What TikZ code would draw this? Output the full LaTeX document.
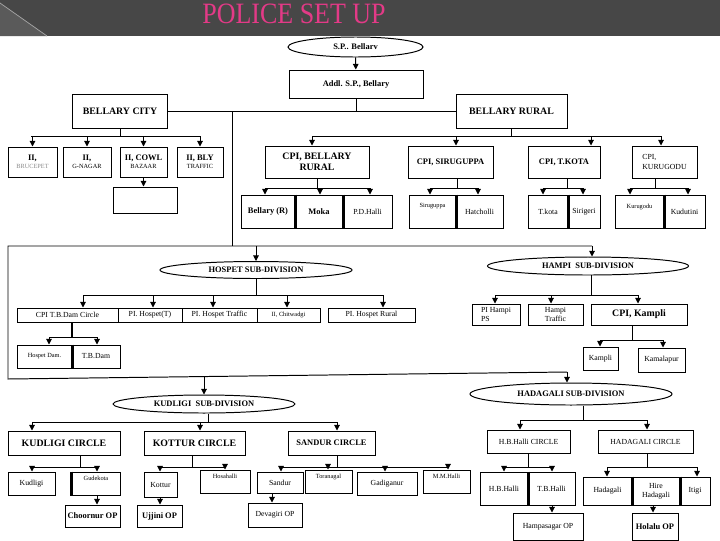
\documentclass[tikz,border=0pt]{standalone}
\usepackage{fontspec}
\setmainfont{Liberation Serif}
\usetikzlibrary{arrows.meta,shapes.geometric}
\definecolor{bargray}{HTML}{474747}
\definecolor{barlight}{HTML}{5A5A5A}
\definecolor{titlepink}{HTML}{E33A87}
\definecolor{hintgray}{HTML}{8A8A8A}

\begin{document}
\begin{tikzpicture}[x=0.025cm,y=-0.025cm,line width=.7pt,
    bx/.style={draw,inner sep=0pt,align=center},
    oval/.style={draw,ellipse,inner sep=0pt},
    sz/.style 2 args={minimum width=#1*0.025cm,minimum height=#2*0.025cm},
    arr/.style={-{Triangle[length=4pt,width=4pt]}},
    sep/.style={line width=1.6pt},
    hi/.style={text depth=8pt},
    hdT/.style={font=\fontsize{7}{8}\selectfont\bfseries},
    mdT/.style={font=\fontsize{6}{7}\selectfont\bfseries},
    rmT/.style={font=\fontsize{5.5}{6.5}\selectfont},
    smT/.style={font=\fontsize{4.5}{5.5}\selectfont}]
  \useasboundingbox (0,0) rectangle (720,540);
  % title bar
  \fill[bargray] (0,0) rectangle (720,36);
  \fill[barlight] (0,3) -- (47,36) -- (0,36) -- cycle;
  \draw[gray!70,line width=.5pt] (0,3) -- (47,36);
  \node[text=titlepink,xscale=.88,font=\fontsize{21}{24}\selectfont] (title) at (294,14) {POLICE SET UP};

  % head office
  \node[oval,sz={135}{20},mdT] (sp) at (355.5,47) {S.P.. Bellarv};
  \node[bx,sz={134}{28},mdT] (addl) at (356,84) {Addl. S.P., Bellary};
  \node[bx,sz={95}{34},hdT] (city) at (120,111) {BELLARY CITY};
  \node[bx,sz={111}{34},hdT] (rural) at (511.5,111) {BELLARY RURAL};
  \draw[arr] (sp) -- (addl);
  \draw (city) -- (rural);
  \draw (addl) -- (addl.south |- city.east);

  % city stations
  \coordinate (cityBus) at (120,136);
  \node[bx,sz={49}{30},smT] (bru) at (32.5,162) {\textbf{\fontsize{6}{7}\selectfont II,}\\{\color{hintgray}BRUCEPET}};
  \node[bx,sz={48}{30},smT] (gnagar) at (87,162) {\textbf{\fontsize{6}{7}\selectfont II,}\\G-NAGAR};
  \node[bx,sz={47}{30},smT] (cowl) at (143.5,162) {\textbf{\fontsize{6}{7}\selectfont II, COWL}\\BAZAAR};
  \node[bx,sz={46}{30},smT] (blytraf) at (200,162) {\textbf{\fontsize{6}{7}\selectfont II, BLY}\\TRAFFIC};
  \node[bx,sz={64}{26}] (cowlsub) at (145,200) {};
  \draw (city) -- (cityBus);
  \draw (cityBus -| 31,0) -- (cityBus -| 200,0);
  \foreach \n in {bru,gnagar,cowl,blytraf}
    \draw[arr] (cityBus -| \n.north) -- (\n.north);
  \draw[arr] (cowl.south) -- (cowlsub.north -| cowl.south);

  % rural circles
  \coordinate (ruralBus) at (511.5,136);
  \node[bx,sz={104}{32},hdT] (cpibr) at (317,162) {CPI, BELLARY\\RURAL};
  \node[bx,sz={85}{32},mdT] (cpisir) at (450.5,162) {CPI, SIRUGUPPA};
  \node[bx,sz={72}{32},mdT] (cpitk) at (564,162) {CPI, T.KOTA};
  \node[bx,sz={65}{32},rmT,align=left] (cpiku) at (664.5,162) {CPI,\\KURUGODU};
  \draw (rural) -- (ruralBus);
  \draw (ruralBus -| 312,0) -- (ruralBus -| 661,0);
  \foreach \n/\x in {cpibr/312,cpisir/456,cpitk/591,cpiku/661}
    \draw[arr] (ruralBus -| \x,0) -- (\n.north -| \x,0);

  % rural stations
  \coordinate (brBus) at (317,188);
  \node[bx,sz={54}{33},mdT] (brbel) at (268,211.5) {Bellary (R)};
  \node[bx,sz={48}{33},mdT] (brmoka) at (319,211.5) {Moka};
  \node[bx,sz={49}{33},rmT] (brpdh) at (367.5,211.5) {P.D.Halli};
  \draw (cpibr) -- (brBus);
  \draw (brBus -| 265,0) -- (brBus -| 370,0);
  \foreach \n/\x in {brbel/265,brmoka/320,brpdh/370}
    \draw[arr] (brBus -| \x,0) -- (\n.north -| \x,0);
  \draw[sep] (brbel.north east) -- (brbel.south east);
  \draw[sep] (brmoka.north east) -- (brmoka.south east);

  \coordinate (sirBus) at (457,188);
  \node[bx,sz={47}{33},smT,hi] (sirsir) at (432.5,211.5) {Siruguppa};
  \node[bx,sz={47}{33},rmT] (sirhat) at (479.5,211.5) {Hatcholli};
  \draw (cpisir.south -| sirBus) -- (sirBus);
  \draw (sirBus -| 430,0) -- (sirBus -| 478,0);
  \foreach \n/\x in {sirsir/430,sirhat/478}
    \draw[arr] (sirBus -| \x,0) -- (\n.north -| \x,0);
  \draw[sep] (sirsir.north east) -- (sirsir.south east);

  \coordinate (tkBus) at (567,188);
  \node[bx,sz={40}{33},rmT] (tktk) at (548,211.5) {T.kota};
  \node[bx,sz={32}{33},rmT] (tksir) at (584,211.5) {Sirigeri};
  \draw (cpitk.south -| tkBus) -- (tkBus);
  \draw (tkBus -| 543,0) -- (tkBus -| 583,0);
  \foreach \n/\x in {tktk/543,tksir/583}
    \draw[arr] (tkBus -| \x,0) -- (\n.north -| \x,0);
  \draw[sep] (tktk.north east) -- (tktk.south east);

  \coordinate (kuBus) at (655,188);
  \node[bx,sz={49}{33},smT,hi] (kuku) at (639.5,211.5) {Kurugodu};
  \node[bx,sz={41}{33},rmT] (kukud) at (684.5,211.5) {Kudutini};
  \draw (cpiku.south -| kuBus) -- (kuBus);
  \draw (kuBus -| 630,0) -- (kuBus -| 688,0);
  \foreach \n/\x in {kuku/630,kukud/688}
    \draw[arr] (kuBus -| \x,0) -- (\n.north -| \x,0);
  \draw[sep] (kuku.north east) -- (kuku.south east);

  % sub-division frame
  \coordinate (frameTop) at (232,246);
  \coordinate (frameNW) at (8,246);
  \coordinate (frameNE) at (592,246);
  \coordinate (frameSW) at (8,379);
  \coordinate (frameSE) at (567,372);
  \draw (city.east -| frameTop) -- (frameTop);
  \draw (frameNE) -- (frameNW) -- (frameSW) -- (frameSE);

  % hospet
  \node[oval,sz={192}{17},mdT] (hospet) at (256,270) {HOSPET SUB-DIVISION};
  \draw[arr] (frameNW -| hospet.north) -- (hospet.north);
  \coordinate (hospetBus) at (256,295);
  \node[bx,sz={101}{14},rmT] (hcpi) at (67.5,315) {CPI T.B.Dam Circle};
  \node[bx,sz={64}{14},rmT] (htown) at (150,315) {PI. Hospet(T)};
  \node[bx,sz={75}{14},rmT] (htraf) at (219.5,315) {PI. Hospet Traffic};
  \node[bx,sz={63}{14},smT] (hchit) at (288.5,315) {II, Chitwadgi};
  \node[bx,sz={87}{14},rmT] (hrur) at (371.5,315) {PI. Hospet Rural};
  \draw (hospet) -- (hospetBus);
  \draw (hospetBus -| 83,0) -- (hospetBus -| 383,0);
  \foreach \n/\x in {hcpi/83,htown/153,htraf/213,hchit/287,hrur/383}
    \draw[arr] (hospetBus -| \x,0) -- (\n.north -| \x,0);

  \coordinate (tbdBus) at (72,337);
  \node[bx,sz={55}{23},smT] (hdam) at (44.5,356.5) {Hospet Dam.};
  \node[bx,sz={48}{23},rmT] (htbd) at (96,356.5) {T.B.Dam};
  \draw[line width=1.4pt] (hcpi.south -| tbdBus) -- (tbdBus);
  \draw (tbdBus -| 49,0) -- (tbdBus -| 97,0);
  \foreach \n/\x in {hdam/49,htbd/97}
    \draw[arr] (tbdBus -| \x,0) -- (\n.north -| \x,0);
  \draw[sep] (hdam.north east) -- (hdam.south east);

  % hampi
  \node[oval,sz={201}{18},mdT] (hampi) at (588,266) {HAMPI\ \ SUB-DIVISION};
  \draw[arr] (frameNE) -- (hampi.north -| frameNE);
  \coordinate (hampiBus) at (591,295);
  \node[bx,sz={48}{21},rmT,align=left] (hmpi) at (496,314.5) {PI Hampi\\PS};
  \node[bx,sz={55}{21},rmT,align=left] (hmtraf) at (555.5,314.5) {Hampi\\Traffic};
  \node[bx,sz={96}{21},hdT] (hmcpi) at (639,314.5) {CPI, Kampli};
  \draw (hampi.south -| hampiBus) -- (hampiBus);
  \draw (hampiBus -| 495,0) -- (hampiBus -| 638,0);
  \foreach \n/\x in {hmpi/495,hmtraf/551,hmcpi/638}
    \draw[arr] (hampiBus -| \x,0) -- (\n.north -| \x,0);

  \coordinate (kampliBus) at (632,340);
  \node[bx,sz={35}{23},rmT] (hmkam) at (600.5,358.5) {Kampli};
  \node[bx,sz={47}{24},rmT] (hmkml) at (661.5,360) {Kamalapur};
  \draw (hmcpi.south -| kampliBus) -- (kampliBus);
  \draw (kampliBus -| 600,0) -- (kampliBus -| 663,0);
  \foreach \n/\x in {hmkam/600,hmkml/663}
    \draw[arr] (kampliBus -| \x,0) -- (\n.north -| \x,0);

  % kudligi
  \node[oval,sz={182}{18},mdT] (kudligi) at (204,404) {KUDLIGI\ \ SUB-DIVISION};
  \coordinate (kudligiIn) at (204,376.5);
  \draw[arr] (kudligiIn) -- (kudligi);
  \coordinate (kudligiBus) at (208,422);
  \node[bx,sz={112}{24},hdT] (kcir) at (64,443) {KUDLIGI CIRCLE};
  \node[bx,sz={101}{24},hdT] (kotcir) at (194.5,443) {KOTTUR CIRCLE};
  \node[bx,sz={87}{24},mdT] (sancir) at (331.5,443) {SANDUR CIRCLE};
  \draw (kudligi.south -| kudligiBus) -- (kudligiBus);
  \draw (kudligiBus -| 32,0) -- (kudligiBus -| 337,0);
  \foreach \n/\x in {kcir/32,kotcir/200,sancir/337}
    \draw[arr] (kudligiBus -| \x,0) -- (\n.north -| \x,0);

  \coordinate (kdBus) at (80,467);
  \node[bx,sz={47}{23},rmT] (kdkud) at (31.5,483.5) {Kudligi};
  \node[bx,sz={48}{23},smT,hi] (kdgud) at (96,483.5) {Gudekota};
  \node[bx,sz={55}{22},mdT] (kdcho) at (92.5,516) {Choornur OP};
  \draw (kcir.south -| kdBus) -- (kdBus);
  \draw (kdBus -| 32,0) -- (kdBus -| 97,0);
  \foreach \n/\x in {kdkud/32,kdgud/97}
    \draw[arr] (kdBus -| \x,0) -- (\n.north -| \x,0);
  \draw[arr] (kdgud.south -| 97,0) -- (kdcho.north -| 97,0);
  \draw[sep] (kdgud.north west) -- (kdgud.south west);

  \coordinate (ktBus) at (192,467);
  \node[bx,sz={33}{25},rmT] (ktkot) at (160.5,484.5) {Kottur};
  \node[bx,sz={50}{23},smT,hi] (kthos) at (225,481.5) {Hosahalli};
  \node[bx,sz={45}{22},mdT] (ktujj) at (159.5,516) {Ujjini OP};
  \draw (kotcir.south -| ktBus) -- (ktBus);
  \draw (ktBus -| 160,0) -- (ktBus -| 225,0);
  \foreach \n/\x in {ktkot/160,kthos/225}
    \draw[arr] (ktBus -| \x,0) -- (\n.north -| \x,0);
  \draw[arr] (ktkot.south -| 160,0) -- (ktujj.north -| 160,0);

  \coordinate (ksBus) at (337,467);
  \node[bx,sz={46}{21},rmT] (kssan) at (280,482.5) {Sandur};
  \node[bx,sz={47}{23},smT,hi] (kstor) at (328.5,481.5) {Toranagal};
  \node[bx,sz={60}{23},rmT] (ksgad) at (387,483.5) {Gadiganur};
  \node[bx,sz={47}{23},smT,hi] (ksmmh) at (446.5,481.5) {M.M.Halli};
  \node[bx,sz={54}{24},rmT] (ksdev) at (275,515) {Devagiri OP};
  \draw (sancir.south -| ksBus) -- (ksBus);
  \draw (ksBus -| 281,0) -- (ksBus -| 448,0);
  \foreach \n/\x in {kssan/281,kstor/328,ksgad/385,ksmmh/448}
    \draw[arr] (ksBus -| \x,0) -- (\n.north -| \x,0);
  \draw[arr] (kssan.south -| 272,0) -- (ksdev.north -| 272,0);

  % hadagali
  \node[oval,sz={202}{22},mdT] (hadagali) at (571,394) {HADAGALI SUB-DIVISION};
  \draw[arr] (frameSE) -- (hadagali.north -| frameSE);
  \coordinate (hadBus) at (583,420);
  \node[bx,sz={83}{23},rmT] (hbcir) at (528.5,441.5) {H.B.Halli CIRCLE};
  \node[bx,sz={95}{23},rmT] (hacir) at (645.5,441.5) {HADAGALI CIRCLE};
  \draw (hadagali.south -| hadBus) -- (hadBus);
  \draw (hadBus -| 520,0) -- (hadBus -| 647,0);
  \foreach \n/\x in {hbcir/520,hacir/647}
    \draw[arr] (hadBus -| \x,0) -- (\n.north -| \x,0);

  \coordinate (hbBus) at (528,467);
  \node[bx,sz={48}{33},rmT] (hbhbh) at (504,488.5) {H.B.Halli};
  \node[bx,sz={47}{33},rmT] (hbtbh) at (551.5,488.5) {T.B.Halli};
  \node[bx,sz={70}{27},rmT] (hbham) at (548,526.5) {Hampasagar OP};
  \draw (hbcir.south -| hbBus) -- (hbBus);
  \draw (hbBus -| 504,0) -- (hbBus -| 552,0);
  \foreach \n/\x in {hbhbh/504,hbtbh/552}
    \draw[arr] (hbBus -| \x,0) -- (\n.north -| \x,0);
  \draw[arr] (hbtbh.south -| 552,0) -- (hbham.north -| 552,0);
  \draw[sep] (hbhbh.north east) -- (hbhbh.south east);

  \coordinate (haBus) at (647,467);
  \node[bx,sz={49}{28},rmT] (hahad) at (607.5,491) {Hadagali};
  \node[bx,sz={48}{28},rmT] (hahire) at (656,491) {Hire\\Hadagali};
  \node[bx,sz={30}{28},rmT] (haiti) at (695,491) {Itigi};
  \node[bx,sz={46}{27},mdT] (hahol) at (655,526.5) {Holalu OP};
  \draw (hacir.south -| haBus) -- (haBus);
  \draw (haBus -| 607,0) -- (haBus -| 697,0);
  \foreach \n/\x in {hahad/607,haiti/697}
    \draw[arr] (haBus -| \x,0) -- (\n.north -| \x,0);
  \draw[arr] (hahire.south -| 653,0) -- (hahol.north -| 653,0);
  \draw[sep] (hahad.north east) -- (hahad.south east);
  \draw[sep] (hahire.north east) -- (hahire.south east);
\end{tikzpicture}
\end{document}
